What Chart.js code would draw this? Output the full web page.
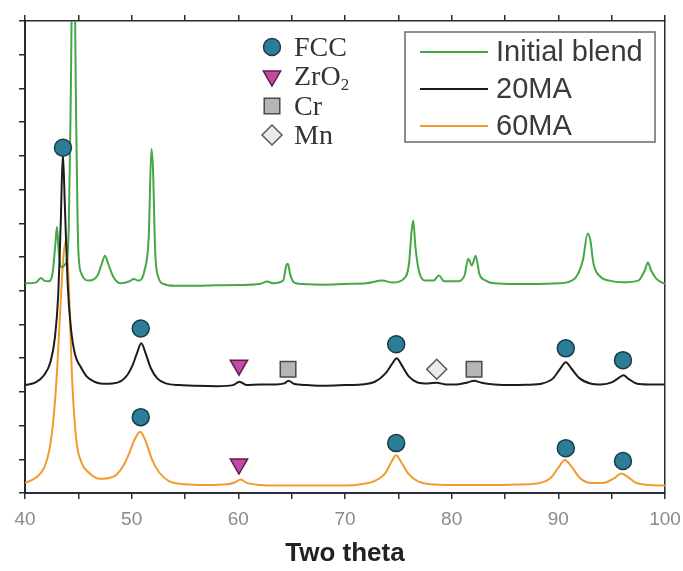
<!DOCTYPE html>
<html>
<head>
<meta charset="utf-8">
<script src="https://cdn.jsdelivr.net/npm/chart.js@4.4.1/dist/chart.umd.min.js"></script>
<style>
  body { margin: 0; background: #fff; }
  #wrap { width: 683px; height: 571px; }
</style>
</head>
<body>
<div id="wrap"><canvas id="xrd" width="683" height="571"></canvas></div>
<script>
// XRD patterns (two theta vs. offset intensity, arbitrary units)

const blendX = [40, 41.0, 41.5, 41.8, 42.2, 42.6, 42.85, 43.0, 43.15, 43.4, 43.8, 44.1, 44.3, 44.45, 44.6, 44.8, 45.0, 45.3, 46.0, 46.8, 47.2, 47.5, 47.8, 48.3, 49.0, 49.8, 50.2, 50.6, 51.2, 51.6, 51.85, 52.0, 52.2, 52.5, 53.0, 54, 56, 58, 60, 62, 62.7, 63.3, 64.2, 64.5, 64.65, 64.85, 65.2, 66, 68, 70, 72, 73.5, 74.5, 75.5, 76.0, 76.25, 76.4, 76.6, 77.0, 77.6, 78.3, 78.8, 79.3, 80.5, 81.2, 81.55, 81.9, 82.25, 82.6, 83.2, 84, 86, 88, 90, 91.5, 92.3, 92.75, 93.0, 93.3, 94.0, 94.8, 96, 97.5, 98.1, 98.4, 98.7, 99.2, 100];
const blendY = [6.22, 6.24, 6.38, 6.3, 6.28, 6.55, 7.4, 7.9, 7.2, 6.7, 6.8, 7.8, 12, 16, 16, 11, 7.2, 6.5, 6.3, 6.45, 6.8, 7.04, 6.8, 6.4, 6.22, 6.28, 6.35, 6.3, 6.6, 7.6, 10.2, 9.6, 7.2, 6.4, 6.2, 6.15, 6.15, 6.16, 6.17, 6.2, 6.27, 6.22, 6.3, 6.75, 6.8, 6.5, 6.25, 6.2, 6.18, 6.2, 6.22, 6.3, 6.24, 6.35, 6.8, 7.8, 8.08, 7.3, 6.5, 6.3, 6.3, 6.45, 6.28, 6.28, 6.45, 6.95, 6.75, 7.04, 6.5, 6.3, 6.22, 6.2, 6.2, 6.22, 6.35, 6.9, 7.7, 7.5, 6.8, 6.4, 6.3, 6.25, 6.3, 6.6, 6.84, 6.6, 6.35, 6.2];

const ma20X = [40, 41, 41.8, 42.4, 42.8, 43.1, 43.35, 43.55, 43.75, 44.0, 44.3, 44.7, 45.2, 45.8, 46.5, 47.3, 48.2, 49.0, 49.6, 50.1, 50.5, 50.9, 51.3, 51.8, 52.4, 53.2, 54.5, 56, 58, 59.5, 60.1, 60.8, 62, 63.5, 64.3, 64.7, 65.2, 66.5, 68, 70, 71.5, 72.8, 73.8, 74.4, 74.85, 75.3, 76.0, 76.8, 77.8, 78.6, 79.5, 80.5, 81.5, 82.1, 82.8, 84, 85.5, 87, 88.5, 89.5, 90.2, 90.7, 91.2, 92.0, 93.0, 94.0, 95.0, 95.7, 96.1, 96.6, 97.4, 98.5, 100];
const ma20Y = [3.2, 3.28, 3.5, 3.9, 4.6, 5.8, 8.0, 10.06, 8.4, 6.2, 4.9, 4.1, 3.75, 3.45, 3.3, 3.24, 3.25, 3.32, 3.5, 3.8, 4.15, 4.44, 4.15, 3.7, 3.4, 3.25, 3.2, 3.18, 3.17, 3.2, 3.3, 3.2, 3.22, 3.22, 3.25, 3.33, 3.24, 3.2, 3.18, 3.2, 3.22, 3.3, 3.55, 3.82, 4.0, 3.8, 3.45, 3.28, 3.25, 3.27, 3.22, 3.22, 3.28, 3.33, 3.27, 3.22, 3.2, 3.21, 3.25, 3.4, 3.7, 3.88, 3.7, 3.4, 3.25, 3.22, 3.28, 3.42, 3.49, 3.38, 3.24, 3.22, 3.22];

const ma60X = [40, 41, 41.8, 42.3, 42.7, 43.0, 43.3, 43.6, 43.85, 44.1, 44.4, 44.8, 45.3, 46.0, 47.0, 48.0, 48.6, 49.2, 49.8, 50.3, 50.8, 51.3, 51.9, 52.6, 53.5, 55, 57, 59, 59.7, 60.2, 60.8, 62, 64, 66, 68, 70, 71.5, 72.8, 73.8, 74.4, 74.8, 75.2, 76.0, 76.8, 78, 80, 82, 84, 86, 88, 89.3, 90.0, 90.6, 91.2, 92.0, 93.0, 94.2, 95.3, 95.9, 96.5, 97.3, 98.5, 100];
const ma60Y = [0.3, 0.45, 0.75, 1.3, 2.3, 3.6, 5.4, 7.0, 7.5, 6.2, 3.5, 1.6, 0.9, 0.6, 0.42, 0.45, 0.55, 0.8, 1.2, 1.6, 1.82, 1.55, 1.0, 0.6, 0.35, 0.26, 0.24, 0.26, 0.32, 0.4, 0.3, 0.24, 0.22, 0.22, 0.22, 0.22, 0.26, 0.36, 0.6, 0.95, 1.12, 0.95, 0.55, 0.35, 0.26, 0.24, 0.24, 0.24, 0.25, 0.28, 0.45, 0.75, 0.98, 0.8, 0.45, 0.3, 0.3, 0.45, 0.58, 0.48, 0.3, 0.24, 0.22];

// phase markers
const fccX = [43.56, 50.85, 74.8, 90.7, 96.06, 50.85, 74.8, 90.7, 96.06];
const fccY = [10.24, 4.88, 4.41, 4.29, 3.94, 2.25, 1.48, 1.33, 0.95];
const zro2X = [60.06, 60.06];
const zro2Y = [3.79, 0.86];
const crX = [64.66, 82.1];
const crY = [3.67, 3.67];
const mnX = [78.6];
const mnY = [3.67];

const xTicks = [40, 50, 60, 70, 80, 90, 100];

const pts = (xs, ys) => xs.map((x, i) => ({ x: x, y: ys[i] }));

const markerStyles = {
  FCC: { pointStyle: "circle", radius: 8.5, rotation: 0, fill: "#2c7d98", stroke: "#1b3b48" },
  ZrO2: { pointStyle: "triangle", radius: 10, rotation: 180, fill: "#c24aa5", stroke: "#5b1f4e" },
  Cr: { pointStyle: "rect", radius: 11, rotation: 0, fill: "#b5b5b5", stroke: "#4a4a4a" },
  Mn: { pointStyle: "rectRot", radius: 10, rotation: 0, fill: "#ebebeb", stroke: "#5a5a5a" },
};

function markerSet(label, xs, ys) {
  const s = markerStyles[label];
  return {
    label: label,
    data: pts(xs, ys),
    pointStyle: s.pointStyle,
    pointRadius: s.radius,
    pointRotation: s.rotation,
    backgroundColor: s.fill,
    borderColor: s.stroke,
    borderWidth: 1.5,
    showLine: false,
    order: 0,
  };
}

function lineSet(label, xs, ys, color, order) {
  return {
    label: label,
    data: pts(xs, ys),
    showLine: true,
    borderColor: color,
    backgroundColor: color,
    borderWidth: 2,
    pointRadius: 0,
    cubicInterpolationMode: "monotone",
    order: order,
  };
}

const lineLegend = [
  { text: "Initial blend", color: "#45a845" },
  { text: "20MA", color: "#1c1c1c" },
  { text: "60MA", color: "#f29a2e" },
];

// the two legends inside the plot
const legendPlugin = {
  id: "xrdLegend",
  afterDraw(chart) {
    const c = chart.ctx;
    c.save();

    // marker legend
    const rows = [
      { key: "FCC", y: 47 },
      { key: "ZrO2", y: 76 },
      { key: "Cr", y: 106 },
      { key: "Mn", y: 135 },
    ];
    rows.forEach((r) => {
      const s = markerStyles[r.key];
      c.fillStyle = s.fill;
      c.strokeStyle = s.stroke;
      c.lineWidth = 1.5;
      Chart.helpers.drawPoint(c, { pointStyle: s.pointStyle, radius: s.radius, rotation: s.rotation, borderWidth: 1.5 }, 272, r.y);
      c.fillStyle = "#333";
      c.font = "28px 'Liberation Serif', 'Times New Roman', serif";
      c.textBaseline = "middle";
      c.textAlign = "left";
      if (r.key === "ZrO2") {
        c.fillText("ZrO", 294, r.y + 2);
        const w = c.measureText("ZrO").width;
        c.font = "17px 'Liberation Serif', 'Times New Roman', serif";
        c.fillText("2", 294 + w, r.y + 10);
      } else {
        c.fillText(r.key, 294, r.y + 2);
      }
    });

    // line legend
    c.strokeStyle = "#6a6a6a";
    c.lineWidth = 1.5;
    c.strokeRect(405, 32, 250, 110);
    lineLegend.forEach((item, i) => {
      const y = 52 + i * 37;
      c.strokeStyle = item.color;
      c.lineWidth = 2;
      c.beginPath();
      c.moveTo(420, y);
      c.lineTo(488, y);
      c.stroke();
      c.fillStyle = "#3a3a3a";
      c.font = "29px 'Liberation Sans', Arial, sans-serif";
      c.textBaseline = "middle";
      c.fillText(item.text, 496, y + 1);
    });

    c.restore();
  },
};

const ctx = document.getElementById("xrd").getContext("2d");
const xrdChart = new Chart(ctx, {
  type: "scatter",
  data: {
    datasets: [
      markerSet("FCC", fccX, fccY),
      markerSet("ZrO2", zro2X, zro2Y),
      markerSet("Cr", crX, crY),
      markerSet("Mn", mnX, mnY),
      lineSet("20MA", ma20X, ma20Y, "#1c1c1c", 1),
      lineSet("Initial blend", blendX, blendY, "#45a845", 2),
      lineSet("60MA", ma60X, ma60Y, "#f29a2e", 3),
    ],
  },
  options: {
    responsive: false,
    animation: false,
    events: [],
    plugins: {
      legend: { display: false },
      tooltip: { enabled: false },
    },
    layout: { padding: { left: 19, right: 18, top: 15, bottom: 0 } },
    scales: {
      x: {
        type: "linear",
        position: "bottom",
        min: 40,
        max: 100,
        border: { display: true, color: "#2a2f3a", width: 2 },
        grid: { drawOnChartArea: false, color: "#2a2f3a", tickLength: 6, lineWidth: 1.5 },
        ticks: {
          stepSize: 5,
          padding: 9,
          color: "#8a8a8a",
          font: { family: "'Liberation Sans', Arial, sans-serif", size: 19 },
          maxRotation: 0,
          callback: (v) => (xTicks.includes(v) ? String(v) : ""),
        },
        title: {
          display: true,
          text: "Two theta",
          color: "#222",
          font: { family: "'Liberation Sans', Arial, sans-serif", size: 26, weight: "bold" },
          padding: { top: 3, bottom: 2 },
        },
        afterFit(scale) {
          scale.height = 78;
          scale.paddingLeft = 0;
          scale.paddingRight = 0;
        },
      },
      xTop: {
        type: "linear",
        axis: "x",
        position: "top",
        min: 40,
        max: 100,
        border: { display: true, color: "#2a2a2a", width: 1.5 },
        grid: { drawOnChartArea: false, color: "#2a2a2a", tickLength: 6, lineWidth: 1.5 },
        ticks: { display: false, stepSize: 5 },
      },
      y: {
        type: "linear",
        position: "left",
        min: 0,
        max: 14,
        border: { display: true, color: "#2a2a2a", width: 2 },
        grid: { drawOnChartArea: false, color: "#2a2a2a", tickLength: 6, lineWidth: 1.5 },
        ticks: { display: false, stepSize: 1 },
      },
      yRight: {
        type: "linear",
        axis: "y",
        position: "right",
        min: 0,
        max: 14,
        border: { display: true, color: "#2a2a2a", width: 1.5 },
        grid: { display: false, drawTicks: false },
        ticks: { display: false },
        afterFit(scale) {
          scale.width = 0;
        },
      },
    },
  },
  plugins: [legendPlugin],
});
</script>
</body>
</html>
